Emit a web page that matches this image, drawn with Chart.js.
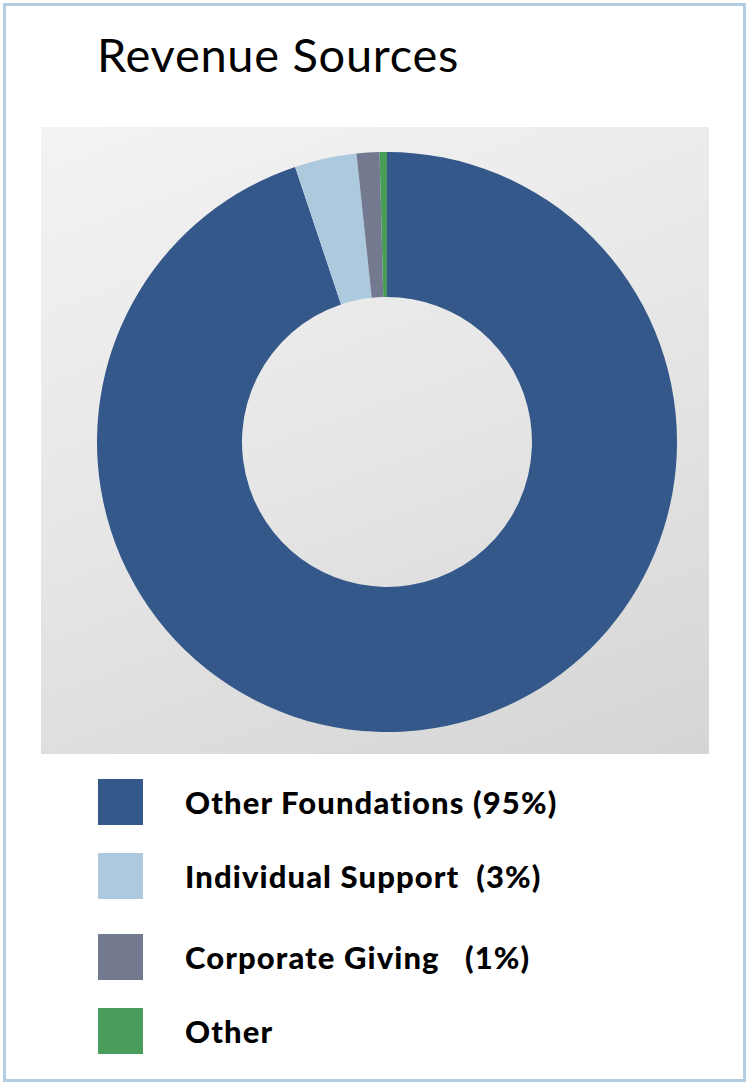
<!DOCTYPE html>
<html>
<head>
<meta charset="utf-8">
<script src="https://cdn.jsdelivr.net/npm/chart.js@4/dist/chart.umd.min.js"></script>
<style>
  html, body { margin: 0; padding: 0; background: #fff; }
  body { width: 748px; height: 1082px; position: relative; overflow: hidden; font-family: Lato, "Open Sans", sans-serif; }
  .frame { position: absolute; left: 3px; top: 3px; width: 737px; height: 1073px; border: 3px solid #b4cde0; }
  h1 { position: absolute; left: 97px; top: 26px; margin: 0; font-weight: 400; font-size: 47px; color: #000; letter-spacing: 0.7px; }
  .plot { position: absolute; left: 41px; top: 127px; width: 668px; height: 627px;
          background: linear-gradient(160deg, #f3f3f3 0%, #e6e6e6 50%, #d5d5d5 100%); }
  .box { position: absolute; left: 45.5px; top: 15px; width: 600px; height: 600px; }
  .legend { position: absolute; left: 98px; top: 779px; }
  .item { position: absolute; left: 0; height: 46px; white-space: pre; }
  .sw { position: absolute; left: 0; top: 0; width: 45px; height: 46px; }
  .lbl { position: absolute; left: 87px; top: 0; line-height: 46px; font-weight: 900; font-size: 31px; letter-spacing: 1.1px; color: #000; }
</style>
</head>
<body>
<div class="frame"></div>
<h1>Revenue Sources</h1>
<div class="plot"><div class="box"><canvas id="c" width="600" height="600"></canvas></div></div>
<div class="legend" id="legend"></div>
<script>
// Anteile (Winkel der Segmente)
const labels = ["Other Foundations", "Individual Support", "Corporate Giving", "Other"];
const legendText = ["Other Foundations (95%)", "Individual Support  (3%)", "Corporate Giving   (1%)", "Other"];
const values = [94.87, 3.45, 1.27, 0.41];
const colors = ["#34588a", "#adc9de", "#737a8f", "#4a9c5a"];
const legendTops = [0, 74, 155, 229];

new Chart(document.getElementById("c"), {
  type: "doughnut",
  data: {
    labels,
    datasets: [{ data: values, backgroundColor: colors, borderWidth: 0 }],
  },
  options: {
    responsive: false,
    animation: false,
    cutout: "50%",
    layout: { padding: 10 },
    plugins: { legend: { display: false }, tooltip: { enabled: false } },
  },
});

const lg = document.getElementById("legend");
lg.innerHTML = legendText.map((t, i) =>
  `<div class="item" style="top:${legendTops[i]}px"><span class="sw" style="background:${colors[i]}"></span><span class="lbl">${t}</span></div>`
).join("");
</script>
</body>
</html>
